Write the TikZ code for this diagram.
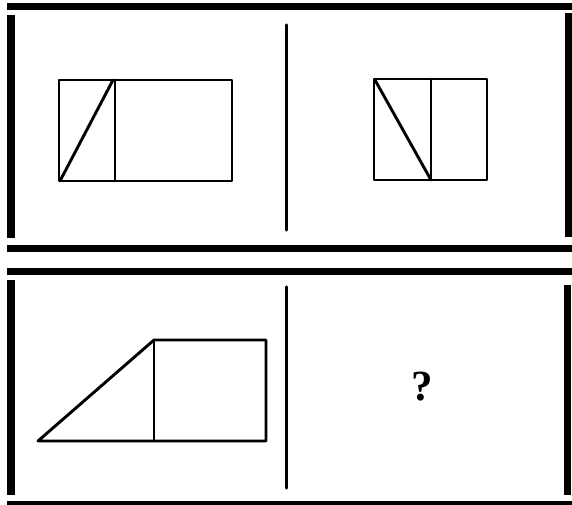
\documentclass[tikz,border=0pt]{standalone}
\usepackage{fontspec}
\setmainfont{Liberation Serif}
\tikzset{
  frame/.style={
    line width=7pt,
    line cap=butt,
  },
  divider/.style={
    line width=3.2pt,
    line cap=round,
  },
  figline/.style={
    line width=2.9pt,
    line join=round,
    line cap=round,
  },
  every picture/.style = {
    x=1pt, y=-1pt
  }
}

\begin{document}
\begin{tikzpicture}
    \useasboundingbox (0,0) rectangle (572,505);
    % top panel
    \draw[frame] (7,6.5)--(572,6.5);
    \draw[frame,line width=8pt] (11,15)--(11,238);
    \draw[frame] (568.5,13)--(568.5,237);
    \draw[frame] (7,248)--(572,248);
    \draw[divider] (286.5,25)--(286.5,230);
    % bottom panel
    \draw[frame] (7,271.5)--(572,271.5);
    \draw[frame,line width=8pt] (11,280)--(11,495);
    \draw[frame] (567.5,285)--(567.5,495);
    \draw[frame,line width=5pt] (7,503)--(572,503);
    \draw[divider] (286.5,287)--(286.5,488);
    % first figure
    \draw[figline] (59,80) rectangle (232,181);
    \draw[figline] (115,80)--(115,181);
    \draw[figline] (60,181)--(113,80);
    % second figure
    \draw[figline] (374,79) rectangle (487,180);
    \draw[figline] (431,79)--(431,180);
    \draw[figline] (375,80)--(431,180);
    % third figure
    \draw[figline] (38,441)--(154,340)--(266,340)--(266,441)--cycle;
    \draw[figline] (154,340)--(154,441);
    % answer
    \node[font=\fontsize{43}{43}\selectfont\bfseries] (answer) at (422,387) {?};
\end{tikzpicture}
\end{document}
